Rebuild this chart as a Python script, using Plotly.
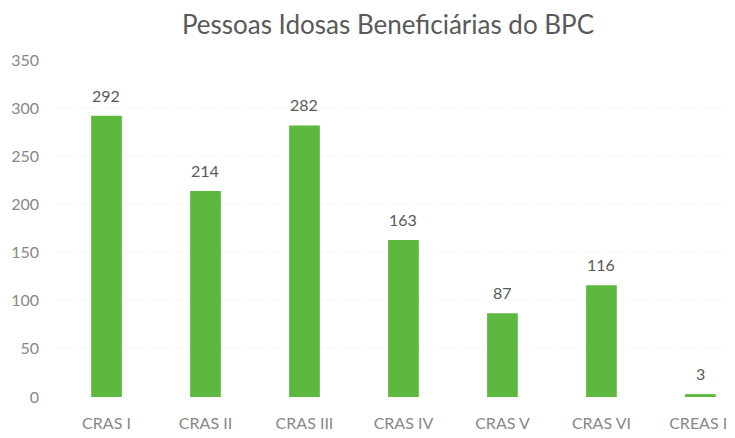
import plotly.graph_objects as go

categorias = ['CRAS I', 'CRAS II', 'CRAS III', 'CRAS IV', 'CRAS V', 'CRAS VI', 'CREAS II']
beneficiarios = [292, 214, 282, 163, 87, 116, 3]
ticks_y = [0, 50, 100, 150, 200, 250, 300, 350]

VERDE = '#5DB83F'
CINZA = '#595959'
CINZA_EIXO = '#888888'

fig = go.Figure(go.Bar(
    x=categorias, y=beneficiarios,
    marker_color=VERDE, marker_line_width=0,
    hoverinfo='x+y',
))

# rótulos de dados acima das barras
for cat, val in zip(categorias, beneficiarios):
    fig.add_annotation(
        x=cat, y=val, text=str(val), showarrow=False,
        yanchor='bottom', yshift=9,
        font=dict(size=16, color=CINZA, family='Lato'),
    )

fig.update_layout(
    title=dict(text='Pessoas Idosas Beneficiárias do BPC',
               x=0.517, xanchor='center', y=0.962, yanchor='middle',
               font=dict(size=26, color=CINZA, family='Lato')),
    width=735, height=438,
    margin=dict(l=49, r=0, t=52, b=49),
    bargap=0.69,
    paper_bgcolor='white', plot_bgcolor='white',
    showlegend=False,
    font=dict(family='Lato'),
    xaxis=dict(range=[-0.5, 6.43], showgrid=False, showline=False,
               ticks='', ticklabeloverflow='allow', ticklabelstandoff=15,
               tickfont=dict(size=16, color=CINZA_EIXO)),
    yaxis=dict(range=[0, 350], tickvals=ticks_y, showline=False,
               gridcolor='#f3f3f3', griddash='dot', zeroline=False,
               ticks='', ticklabelstandoff=17,
               tickfont=dict(size=16, color=CINZA_EIXO)),
)

fig.write_html("out.html")
